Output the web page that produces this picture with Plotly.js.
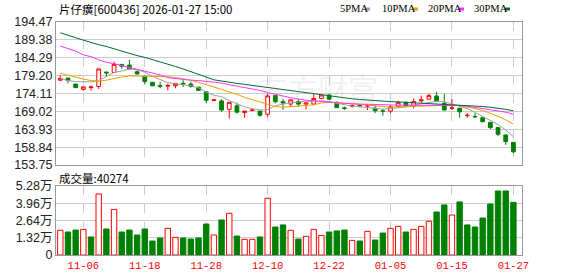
<!DOCTYPE html>
<html>
<head>
<meta charset="utf-8">
<script src="https://cdn.plot.ly/plotly-3.0.1.min.js"></script>
<style>html,body{margin:0;padding:0;background:#fff;}#chart{width:578px;height:276px;}</style>
</head>
<body>
<div id="chart"></div>
<script>
const dates = ["11-03","11-04","11-05","11-06","11-07","11-10","11-11","11-12","11-13","11-14","11-17","11-18","11-19","11-20","11-21","11-24","11-25","11-26","11-27","11-28",
"12-01","12-02","12-03","12-04","12-05","12-08","12-09","12-10","12-11","12-12","12-15","12-16","12-17","12-18","12-19","12-22","12-23","12-24","12-25","12-26","12-29","12-30","12-31",
"01-05","01-06","01-07","01-08","01-09","01-12","01-13","01-14","01-15","01-16","01-19","01-20","01-21","01-22","01-23","01-26","01-27"];

const openP  = [177.9,178.5,176.8,175.3,175.8,176.1,180.2,180.1,182.4,182.2,180.3,179.0,177.3,176.4,176.2,176.3,177.0,176.8,175.9,174.6,
172.1,172.0,169.6,170.6,168.7,169.3,169.1,168.2,173.5,171.8,171.1,171.8,171.1,171.1,172.7,173.7,171.6,170.0,170.5,170.8,
170.55,169.9,169.15,169.1,170.5,171.6,170.5,172.0,172.5,173.4,171.3,169.9,169.9,167.8,167.6,167.2,165.9,164.4,162.3,160.2];
const highP  = [179.3,178.6,176.9,176.1,176.4,181.2,180.4,183.2,182.5,183.7,180.7,179.2,177.4,177.5,176.9,177.0,177.9,177.5,176.0,174.8,
172.5,172.5,171.6,171.5,169.1,169.6,169.1,174.1,173.5,172.5,172.5,172.5,171.5,174.0,173.9,173.8,171.8,170.4,171.1,171.1,
171.0,170.8,169.7,170.8,172.0,171.8,172.7,173.5,174.0,174.6,174.0,172.5,170.1,168.5,168.5,167.4,166.0,164.6,162.4,160.3];
const lowP   = [177.6,177.0,175.6,174.9,174.9,175.4,178.9,180.0,181.1,181.0,179.4,176.8,176.2,175.6,175.0,175.6,176.0,175.8,174.9,171.3,
171.9,168.9,167.0,168.4,167.2,169.0,167.5,167.5,171.3,169.4,170.4,170.3,169.6,170.9,172.5,172.3,170.0,169.4,170.1,170.3,
169.4,168.5,167.8,168.5,170.3,170.3,169.9,171.5,172.4,171.9,169.3,169.4,167.2,167.2,167.1,165.9,164.0,162.0,159.5,157.1];
const closeP = [178.4,177.8,175.8,176.0,175.95,181.1,180.0,182.4,181.9,181.1,179.7,177.5,176.3,176.2,176.4,177.0,176.8,176.1,175.0,172.2,
172.3,169.4,171.6,168.8,169.1,169.4,167.9,173.4,171.8,171.4,172.3,171.1,171.4,172.7,173.7,172.5,170.1,169.9,170.7,170.6,
170.65,169.2,169.1,170.3,171.6,170.5,171.8,172.3,173.5,172.0,169.4,170.0,168.9,167.9,167.5,166.1,164.4,162.5,160.4,157.5];

const ma5  = [178.4,177.8,177.5,177.4,177.4,177.8,179.0,180.1,180.5,181.1,180.9,180.2,179.0,178.0,177.2,176.9,176.7,176.3,175.7,174.5,
173.6,173.2,172.1,171.2,170.3,169.8,169.4,169.5,170.6,171.1,171.5,171.7,171.9,172.0,172.0,171.8,171.3,170.8,170.5,170.3,
170.1,169.9,169.7,169.8,170.0,170.3,170.8,171.2,171.7,171.9,171.8,171.2,170.5,169.8,168.7,167.5,166.5,165.3,163.7,161.8];
const ma10 = [179.9,179.3,178.8,178.2,177.8,177.6,177.9,178.4,178.8,179.1,179.1,179.1,179.1,179.0,178.9,178.7,178.4,177.9,177.3,176.7,
176.0,175.3,174.5,173.9,173.0,172.3,171.7,171.0,170.4,170.2,170.3,170.5,170.7,170.9,171.4,171.6,171.5,171.3,171.1,171.0,
170.8,170.6,170.3,170.2,170.3,170.4,170.5,170.6,170.7,170.8,170.8,170.8,170.6,170.3,169.8,169.3,168.5,167.6,166.6,165.4];
const ma20 = [187.6,186.9,186.2,185.1,184.6,183.7,183.0,182.6,182.1,181.6,181.0,180.5,180.0,179.4,178.6,178.3,178.1,177.9,177.8,177.6,
177.4,177.1,176.6,176.2,176.0,175.5,175.0,174.4,174.0,173.4,172.9,172.5,172.2,172.0,171.8,171.6,171.5,171.4,171.2,171.1,
171.0,170.9,170.8,170.8,170.8,170.8,170.8,170.8,170.8,170.8,170.8,170.8,170.7,170.5,170.2,169.9,169.6,169.3,168.8,168.2];
const ma30 = [191.4,190.8,190.0,189.3,188.6,188.0,187.5,186.8,186.1,185.4,184.9,184.4,183.8,183.2,182.5,181.8,181.1,180.4,179.6,178.8,
178.0,177.6,177.3,177.0,176.7,176.4,176.1,175.9,175.6,175.3,175.0,174.7,174.4,174.0,173.7,173.4,173.1,172.8,172.6,172.4,
172.2,172.0,171.9,171.8,171.7,171.6,171.5,171.4,171.2,171.0,170.9,170.8,170.7,170.6,170.5,170.4,170.2,170.0,169.6,169.2];

const volume = [18900,17600,19100,19600,13800,46700,19900,34900,17600,19100,15300,19900,10700,13000,20400,13500,13000,12200,13000,23700,
15300,26800,31900,14500,12000,12000,13800,43400,21400,23000,18900,12200,14300,19600,15000,17600,18400,19100,11200,10700,
18100,11500,16800,20400,21900,17600,19600,21900,25800,32900,38300,30600,40600,23000,21400,28300,39000,49000,49000,40274];

const tickDates = ["11-06","11-18","11-28","12-10","12-22","01-05","01-15","01-27"];
const priceTicks = [153.75,158.84,163.93,169.02,174.11,179.20,184.29,189.38,194.47];
const volTicks = [0,13200,26400,39600,52800];
const volTickText = ["0","1.32万","2.64万","3.96万","5.28万"];
const maNames = ["5PMA","10PMA","20PMA","30PMA"];

const RED = "#ff0000", GREEN = "#008000";
const maColors = ["#a0a0a0","#f0a000","#ff33ff","#006b33"];

const volUp = volume.map((v,i)=> i===0 ? closeP[i] >= openP[i] : closeP[i] >= closeP[i-1]);

const traces = [
  {type:"candlestick", x:dates, open:openP, high:highP, low:lowP, close:closeP, xaxis:"x", yaxis:"y",
   increasing:{line:{color:RED,width:1}, fillcolor:"#ffffff"},
   decreasing:{line:{color:GREEN,width:1}, fillcolor:GREEN},
   whiskerwidth:0, hoverinfo:"skip", showlegend:false}
];
[ma5,ma10,ma20,ma30].forEach((m,k)=>{
  traces.push({type:"scatter", mode:"lines", x:dates, y:m, xaxis:"x", yaxis:"y",
    line:{color:maColors[k], width:1}, hoverinfo:"skip", showlegend:false, name:maNames[k]});
});
traces.push({type:"bar", x:dates, y:volume, xaxis:"x2", yaxis:"y2",
  marker:{color:volUp.map(u=>u?"#ffffff":GREEN), line:{color:volUp.map(u=>u?RED:GREEN), width:1}},
  hoverinfo:"skip", showlegend:false});

const W=578,H=276,L=56,R=522,T=22,B=255;
const px = x => (x-L)/(R-L);
const py = y => (B-y)/(B-T);

const annotations = [
  {text:"片仔癀[600436] 2026-01-27 15:00", xref:"paper", yref:"paper", x:px(57), y:py(9), xanchor:"left", yanchor:"middle",
   showarrow:false, font:{family:"Noto Sans CJK SC, Liberation Sans", size:11.5, color:"#000"}},
  {text:"成交量:40274", xref:"paper", yref:"paper", x:px(57), y:py(178), xanchor:"left", yanchor:"middle",
   showarrow:false, font:{family:"Noto Sans CJK SC, Liberation Sans", size:11.5, color:"#000"}},
  {text:"东方财富", xref:"paper", yref:"paper", x:px(318), y:py(88), xanchor:"center", yanchor:"middle",
   showarrow:false, font:{family:"Noto Sans CJK SC", size:30, color:"rgba(150,150,150,0.15)"}}
];
const legX = [338,380,426,472];
const sqX = [365,413,459,505];
const shapes = [];
maNames.forEach((n,k)=>{
  annotations.push({text:n, xref:"paper", yref:"paper", x:px(legX[k]), y:py(9), xanchor:"left", yanchor:"middle",
    showarrow:false, font:{family:"Liberation Serif", size:10.5, color:"#000"}});
  shapes.push({type:"rect", xref:"paper", yref:"paper", x0:px(sqX[k]), x1:px(sqX[k]+5), y0:py(10.5), y1:py(7.5),
    fillcolor:maColors[k], line:{width:0}});
});

const gridC = "#cccccc", lineC = "#999999";
const xCommon = {type:"category", range:[-0.56,60.12], tickvals:tickDates, showgrid:true, gridcolor:gridC, griddash:"dash",
  showline:true, mirror:true, linecolor:lineC, linewidth:1, zeroline:false, ticks:"", fixedrange:true};
const layout = {
  width:W, height:H, margin:{l:L, r:W-R, t:T, b:H-B, pad:0},
  paper_bgcolor:"#fff", plot_bgcolor:"#fff", showlegend:false, bargap:0.3,
  xaxis:Object.assign({}, xCommon, {anchor:"y", showticklabels:false, rangeslider:{visible:false}}),
  yaxis:{domain:[py(165),1], range:[153.75,194.47], tickvals:priceTicks, ticktext:priceTicks.map(v=>v.toFixed(2)),
    showgrid:true, gridcolor:gridC, showline:true, mirror:true, linecolor:lineC, zeroline:false, ticks:"",
    tickfont:{family:"Liberation Sans, Arial", size:12.5, color:"#222"}, fixedrange:true},
  xaxis2:Object.assign({}, xCommon, {anchor:"y2", showticklabels:true, ticktext:tickDates,
    tickfont:{family:"Liberation Mono, DejaVu Sans Mono", size:10.5, color:RED}}),
  yaxis2:{domain:[0,py(186)], range:[0,52800], tickvals:volTicks, ticktext:volTickText,
    showgrid:true, gridcolor:gridC, showline:true, mirror:true, linecolor:lineC, zeroline:false, ticks:"",
    tickfont:{family:"Liberation Sans, Noto Sans CJK SC", size:12.5, color:"#222"}, fixedrange:true},
  annotations:annotations, shapes:shapes
};
Plotly.newPlot("chart", traces, layout, {displayModeBar:false, staticPlot:true});
</script>
</body>
</html>
